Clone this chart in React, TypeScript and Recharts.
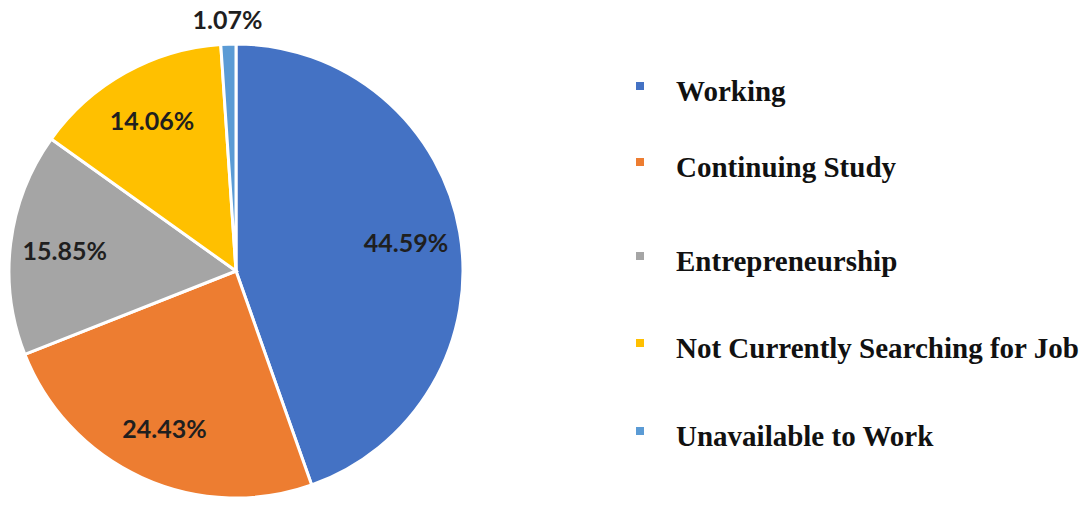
import React from 'react';
import { PieChart, Pie, Cell, Legend } from 'recharts';

// Graduate status shares (%)
const categories = [
  'Working',
  'Continuing Study',
  'Entrepreneurship',
  'Not Currently Searching for Job',
  'Unavailable to Work',
];
const shares = [44.59, 24.43, 15.85, 14.06, 1.07];
const colors = ['#4472C4', '#ED7D31', '#A5A5A5', '#FFC000', '#5B9BD5'];

const data = categories.map((name, i) => ({ name, value: shares[i] }));

const RAD = Math.PI / 180;

const renderLabel = (props: any) => {
  const { cx, cy, midAngle, outerRadius, value } = props;
  const small = value < 5;
  const r = small ? outerRadius + 25 : outerRadius * 0.76;
  const x = cx + r * Math.cos(-midAngle * RAD);
  const y = cy + r * Math.sin(-midAngle * RAD);
  return (
    <text
      x={x}
      y={y}
      fill="#1f1f1f"
      fontSize={25}
      fontWeight="bold"
      fontFamily="Lato, 'Open Sans', sans-serif"
      textAnchor="middle"
      dominantBaseline="central"
    >
      {value.toFixed(2)}%
    </text>
  );
};

// vertical centres of legend rows, relative to legend wrapper
const rowY = [51, 127, 221, 308, 396];

const renderLegend = () => (
  <div
    style={{
      position: 'relative',
      height: 440,
      fontFamily: "'Liberation Serif', serif",
      fontWeight: 'bold',
      color: '#111',
      whiteSpace: 'nowrap',
    }}
  >
    {data.map((d, i) => (
      <div
        key={d.name}
        style={{
          position: 'absolute',
          top: rowY[i] - 20,
          height: 40,
          left: 0,
          display: 'flex',
          alignItems: 'center',
        }}
      >
        <span
          style={{
            display: 'inline-block',
            width: 8,
            height: 8,
            background: colors[i],
            marginRight: 32,
            position: 'relative',
            top: -5,
          }}
        />
        <span style={{ fontSize: 29 }}>{d.name}</span>
      </div>
    ))}
  </div>
);

export default function App() {
  return (
    <div
      style={{
        position: 'absolute',
        left: 0,
        top: 0,
        width: 1088,
        height: 510,
        background: '#fff',
      }}
    >
      <PieChart width={1088} height={510}>
        <Pie
          data={data}
          dataKey="value"
          nameKey="name"
          cx={231}
          cy={266}
          outerRadius={227}
          startAngle={90}
          endAngle={-270}
          stroke="#fff"
          strokeWidth={3}
          label={renderLabel}
          labelLine={false}
          isAnimationActive={false}
        >
          {data.map((d, i) => (
            <Cell key={d.name} fill={colors[i]} />
          ))}
        </Pie>
        <Legend
          content={renderLegend}
          wrapperStyle={{ left: 636, top: 40, width: 450 }}
        />
      </PieChart>
    </div>
  );
}
